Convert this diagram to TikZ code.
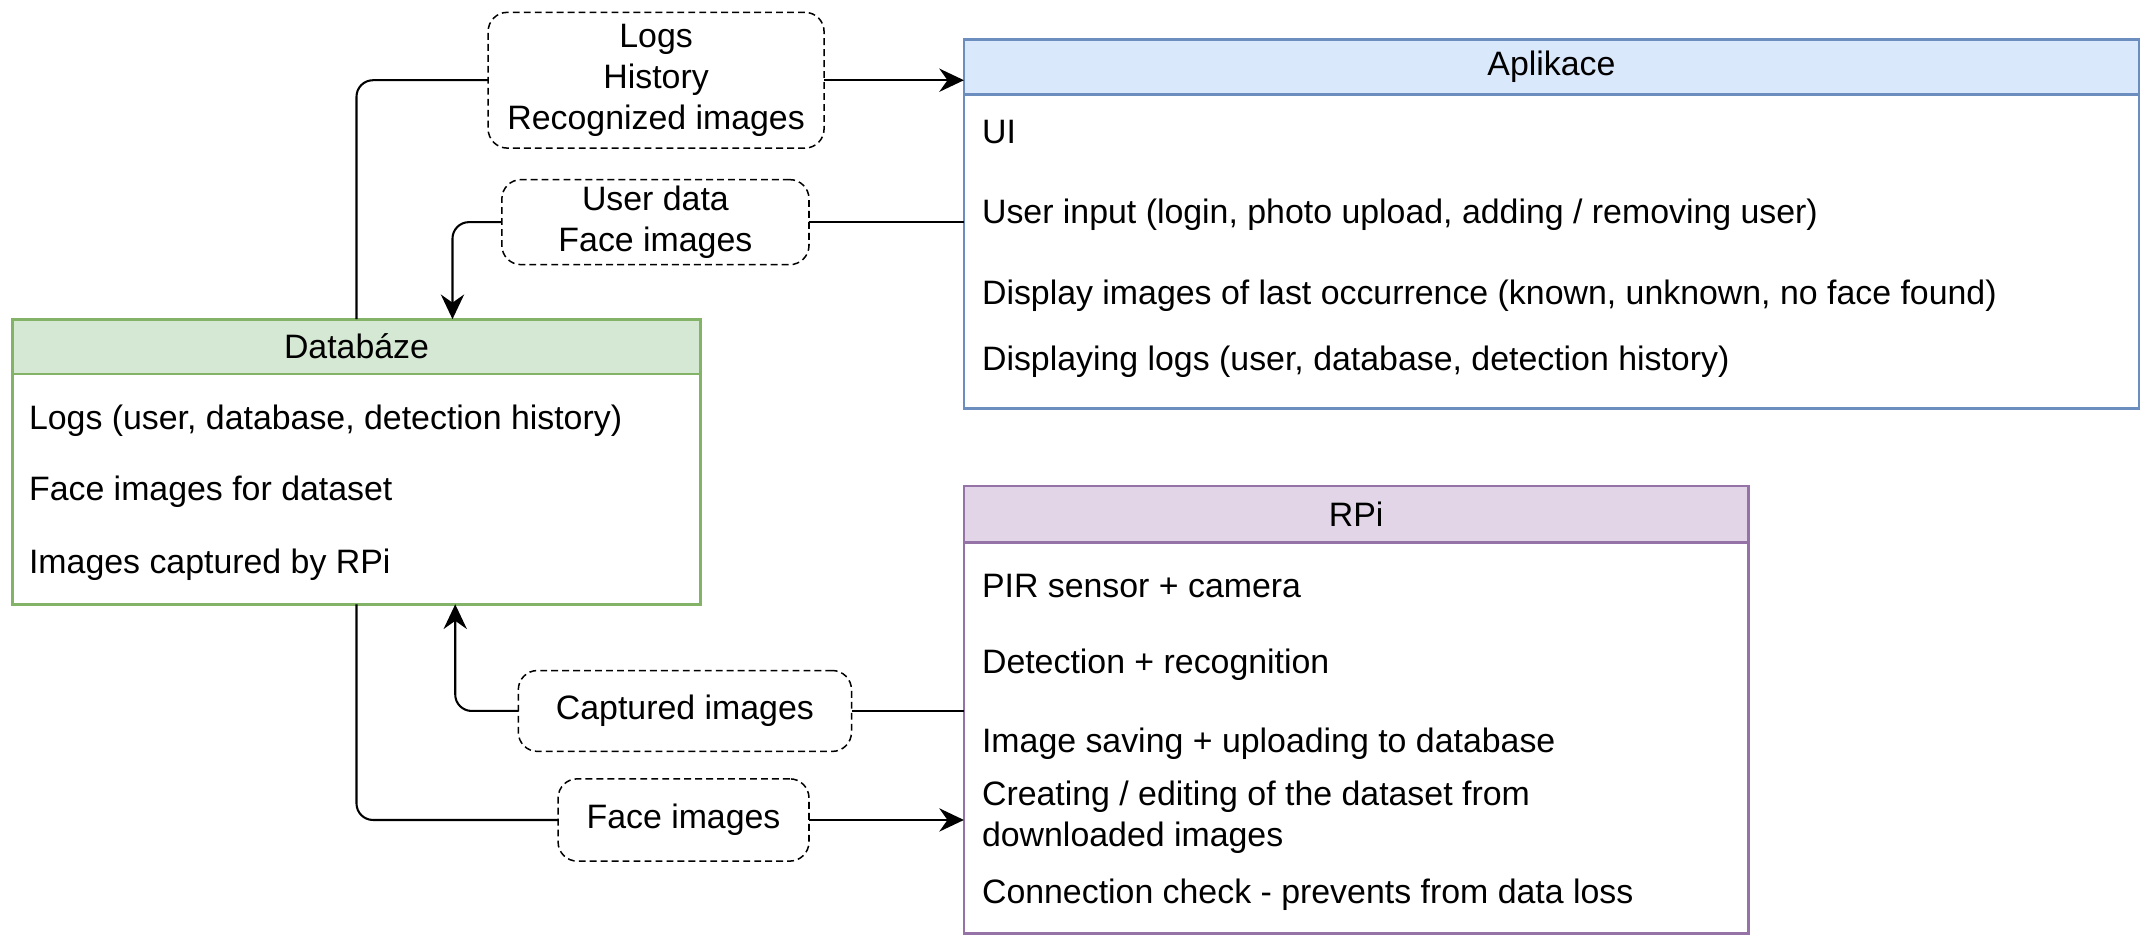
\documentclass[tikz,border=0pt]{standalone}
\usepackage{fontspec}
\setmainfont{Liberation Sans}
\usetikzlibrary{arrows.meta,positioning}
\definecolor{appfill}{HTML}{DAE8FC}
\definecolor{appline}{HTML}{6C8EBF}
\definecolor{dbfill}{HTML}{D5E8D4}
\definecolor{dbline}{HTML}{82B366}
\definecolor{rpifill}{HTML}{E1D5E7}
\definecolor{rpiline}{HTML}{9673A6}
\tikzset{
    every node/.style={font=\fontsize{24.7pt}{30pt}\selectfont}
}
\tikzset{
    head/.style={draw, rectangle, line width=2pt, outer sep=0pt, inner sep=0pt},
    body/.style={draw, rectangle, line width=2pt, outer sep=0pt, inner sep=0pt},
    item/.style={anchor=base west, inner sep=0pt},
    flow/.style={draw, rectangle, rounded corners=14pt, line width=1.1pt,
        dash pattern=on 5pt off 3pt, align=center, inner sep=0pt, outer sep=0pt},
    link/.style={line width=1.5pt, rounded corners=12pt},
    arr/.style={link, -{Stealth[length=18pt, width=17pt, inset=6pt]}}
}

\begin{document}
\begin{tikzpicture}[x=1pt, y=-1pt]
  \useasboundingbox (0,0) rectangle (1568,688.6);

  % Aplikace
  \node (apphead) [head, fill=appfill, draw=appline, minimum width=857pt,
    minimum height=40pt] at (1131.5, 48.7) {Aplikace};
  \node (appbody) [body, draw=appline, minimum width=857pt,
    minimum height=229pt, below=0pt of apphead] {};
  \node (ui) [item] at (716, 105) {UI};
  \node (input) [item] at (716, 163) {User input (login, photo upload, adding / removing user)};
  \node (display) [item] at (716, 222) {Display images of last occurrence (known, unknown, no face found)};
  \node (applogs) [item] at (716, 270) {Displaying logs (user, database, detection history)};

  % Databaze
  \node (dbhead) [head, fill=dbfill, draw=dbline, minimum width=502pt,
    minimum height=40pt] at (260, 252.75) {Databáze};
  \node (dbbody) [body, draw=dbline, minimum width=502pt,
    minimum height=168pt, below=0pt of dbhead] {};
  \node (dblogs) [item] at (21, 313) {Logs (user, database, detection history)};
  \node (dbfaces) [item] at (21, 365) {Face images for dataset};
  \node (dbcaptured) [item] at (21, 418) {Images captured by RPi};

  % RPi
  \node (rpihead) [head, fill=rpifill, draw=rpiline, minimum width=572pt,
    minimum height=41pt] at (989, 375) {RPi};
  \node (rpibody) [body, draw=rpiline, minimum width=572pt,
    minimum height=285.5pt, below=0pt of rpihead] {};
  \node (pir) [item] at (716, 436) {PIR sensor + camera};
  \node (detect) [item] at (716, 491) {Detection + recognition};
  \node (saving) [item] at (716, 549) {Image saving + uploading to database};
  \node (dataset) [item, anchor=west, align=left] at (716, 596)
    {Creating / editing of the dataset from\\downloaded images};
  \node (check) [item] at (716, 659) {Connection check - prevents from data loss};

  % data on the connectors
  \node (logs) [flow, minimum width=245pt, minimum height=99pt] at (478.5, 58.5)
    {Logs\\History\\Recognized images};
  \node (userdata) [flow, minimum width=224pt, minimum height=62pt] at (478, 162)
    {User data\\Face images};
  \node (captured) [flow, minimum width=243pt, minimum height=59pt] at (499.5, 518.5)
    {Captured images};
  \node (faces) [flow, minimum width=183pt, minimum height=60pt] at (498.5, 598)
    {Face images};

  \draw [link] (dbhead.north) |- (logs.west);
  \draw [arr] (logs.east) -- (logs.east -| apphead.west);
  \draw [link] (userdata.east -| appbody.west) -- (userdata.east);
  \draw [arr] (userdata.west) -| ([xshift=70pt]dbhead.north);
  \draw [link] (captured.east -| rpibody.west) -- (captured.east);
  \draw [arr] (captured.west) -| ([xshift=72pt]dbbody.south);
  \draw [link] (dbbody.south) |- (faces.west);
  \draw [arr] (faces.east) -- (faces.east -| rpibody.west);
\end{tikzpicture}
\end{document}
